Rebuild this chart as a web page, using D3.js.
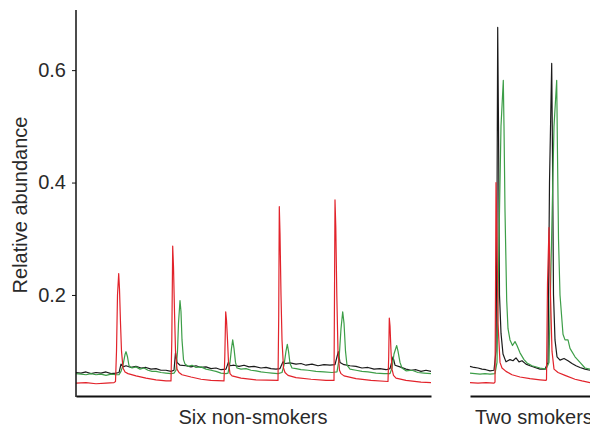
<!DOCTYPE html>
<html>
<head>
    <script src="https://d3js.org/d3.v7.min.js"></script>
</head>
<body style="margin: 0; background-color: white;">

<div id="chart"></div>

<script>
    // panel labels and y ticks
    var panels = ["Six non-smokers", "Two smokers"];
    var yTicks = [0.2, 0.4, 0.6];

    // traces, [time, relative abundance]
    // left panel: six non-smokers
    var leftRed = [
        [0, 0.043], [10, 0.044], [20, 0.042], [30, 0.043], [38, 0.044],
        [39.5, 0.046], [40.5, 0.1], [41.5, 0.2], [42.7, 0.238], [43.5, 0.21], [44.5, 0.15], [45.5, 0.1],
        [47, 0.07], [49, 0.063], [52, 0.06], [60, 0.056], [70, 0.052], [80, 0.049], [90, 0.047], [95, 0.047],
        [95.8, 0.12], [96.7, 0.287], [97.5, 0.25], [98.5, 0.17], [99.5, 0.1], [101, 0.068], [103, 0.062],
        [106, 0.058], [115, 0.054], [125, 0.05], [135, 0.048], [148, 0.047],
        [148.8, 0.09], [149.7, 0.17], [150.5, 0.155], [151.5, 0.12], [152.5, 0.08], [154, 0.06], [156, 0.056],
        [165, 0.052], [180, 0.049], [202, 0.048],
        [202.7, 0.16], [203.3, 0.357], [204, 0.31], [205, 0.2], [206, 0.12], [207.5, 0.07], [209, 0.062],
        [212, 0.057], [220, 0.053], [235, 0.05], [250, 0.048], [258, 0.048],
        [258.5, 0.2], [259, 0.369], [259.8, 0.32], [260.8, 0.2], [262, 0.1], [263.5, 0.066], [265, 0.06],
        [268, 0.056], [280, 0.051], [295, 0.048], [312, 0.046],
        [312.7, 0.09], [313.3, 0.159], [314, 0.145], [315, 0.1], [316, 0.068], [317.5, 0.057],
        [320, 0.052], [330, 0.048], [345, 0.045], [355, 0.044]
    ];
    var leftBlack = [
        [0, 0.062], [5, 0.061], [10, 0.063], [15, 0.060], [20, 0.062], [25, 0.061], [30, 0.063],
        [35, 0.060], [40, 0.061], [43, 0.062], [45, 0.077], [47, 0.072], [50, 0.074], [55, 0.071],
        [60, 0.073], [65, 0.070], [70, 0.071], [75, 0.068], [80, 0.069], [85, 0.066], [90, 0.066],
        [95, 0.064], [98, 0.066], [99.5, 0.097], [101, 0.08], [104, 0.075], [110, 0.074],
        [115, 0.072], [120, 0.074], [125, 0.071], [130, 0.072], [135, 0.069], [140, 0.070],
        [145, 0.067], [150, 0.068], [152.5, 0.081], [154, 0.074], [158, 0.075], [163, 0.073],
        [168, 0.075], [173, 0.072], [178, 0.073], [185, 0.070], [190, 0.071], [195, 0.069],
        [200, 0.068], [204, 0.069], [207, 0.081], [209, 0.078], [214, 0.079], [220, 0.077],
        [225, 0.078], [230, 0.075], [236, 0.077], [242, 0.074], [248, 0.076], [254, 0.075],
        [259, 0.076], [262.3, 0.099], [264, 0.08], [268, 0.076], [274, 0.074], [280, 0.073],
        [286, 0.070], [292, 0.071], [298, 0.068], [304, 0.069], [310, 0.067], [314, 0.069],
        [317, 0.090], [319, 0.075], [324, 0.072], [330, 0.068], [335, 0.066], [340, 0.067],
        [345, 0.064], [350, 0.066], [355, 0.064]
    ];
    var leftGreen = [
        [0, 0.060], [5, 0.059], [10, 0.058], [15, 0.060], [20, 0.058], [25, 0.059], [30, 0.057],
        [35, 0.059], [40, 0.058], [43, 0.058], [45, 0.064], [47, 0.075], [49, 0.094], [50, 0.099],
        [51.5, 0.09], [53, 0.074], [56, 0.070], [60, 0.072], [64, 0.068], [68, 0.070], [72, 0.066],
        [76, 0.064], [80, 0.064], [85, 0.062], [90, 0.061], [95, 0.060], [98, 0.061], [100, 0.066],
        [101.5, 0.1], [102.5, 0.15], [104, 0.19], [105, 0.17], [106, 0.12], [107.5, 0.085],
        [109, 0.077], [112, 0.073], [116, 0.075], [120, 0.071], [125, 0.072], [130, 0.068],
        [135, 0.066], [140, 0.064], [145, 0.061], [150, 0.060], [152, 0.061], [154, 0.08],
        [155.5, 0.105], [156.7, 0.12], [158, 0.105], [159.5, 0.08], [161, 0.07], [165, 0.068],
        [170, 0.069], [175, 0.066], [180, 0.065], [185, 0.063], [190, 0.062], [196, 0.061],
        [202, 0.060], [206, 0.062], [208, 0.075], [210, 0.1], [211.3, 0.112], [212.5, 0.1],
        [214, 0.078], [216, 0.07], [220, 0.069], [225, 0.067], [232, 0.066], [240, 0.064],
        [248, 0.063], [256, 0.062], [261, 0.063], [263, 0.085], [265, 0.14], [266.7, 0.17],
        [268, 0.15], [269.5, 0.1], [271, 0.075], [274, 0.068], [280, 0.066], [286, 0.064],
        [292, 0.063], [300, 0.061], [308, 0.060], [314, 0.060], [316, 0.07], [318, 0.095],
        [320.7, 0.11], [322, 0.1], [324, 0.08], [326, 0.07], [330, 0.065], [336, 0.066],
        [342, 0.062], [348, 0.061], [355, 0.060]
    ];

    // right panel: two smokers
    var rightRed = [
        [0, 0.044], [8, 0.043], [16, 0.044], [24, 0.043], [25, 0.045], [25.5, 0.2], [26, 0.4],
        [27, 0.3], [28, 0.15], [30, 0.08], [32, 0.07], [36, 0.064], [42, 0.058], [50, 0.054],
        [60, 0.051], [70, 0.049], [76, 0.048], [76.5, 0.05], [77.5, 0.22], [79, 0.32], [80.5, 0.2],
        [82, 0.1], [84, 0.068], [88, 0.062], [95, 0.057], [105, 0.05], [112, 0.047], [120, 0.044]
    ];
    var rightBlack = [
        [0, 0.073], [4, 0.071], [8, 0.070], [12, 0.068], [16, 0.067], [20, 0.065], [24, 0.066],
        [26, 0.10], [27, 0.35], [27.7, 0.676], [28.5, 0.5], [29.5, 0.2], [31, 0.132], [33, 0.095],
        [36, 0.081], [40, 0.085], [43, 0.083], [46, 0.088], [49, 0.081], [52, 0.083], [56, 0.077],
        [60, 0.074], [65, 0.071], [70, 0.068], [75, 0.068], [78, 0.08], [79.5, 0.4], [81.7, 0.612],
        [82.5, 0.45], [83.5, 0.2], [85, 0.12], [87, 0.09], [90, 0.084], [94, 0.087], [98, 0.083],
        [102, 0.078], [106, 0.074], [110, 0.071], [115, 0.068], [120, 0.066]
    ];
    var rightGreen = [
        [0, 0.061], [5, 0.060], [10, 0.059], [15, 0.060], [20, 0.059], [25, 0.060], [27, 0.08],
        [29, 0.3], [31, 0.5], [33.3, 0.582], [34, 0.5], [35, 0.35], [36.7, 0.19], [38, 0.14],
        [40, 0.12], [42.5, 0.11], [45, 0.117], [47, 0.11], [50, 0.097], [54, 0.085], [57, 0.079],
        [62, 0.074], [70, 0.070], [76, 0.068], [79, 0.08], [81, 0.25], [84, 0.5], [86.7, 0.582],
        [87.5, 0.45], [88.5, 0.3], [90, 0.2], [93, 0.13], [95, 0.12], [98, 0.12], [100, 0.105],
        [105, 0.09], [110, 0.08], [115, 0.07], [120, 0.068]
    ];

    var width = 590, height = 427;

    var svg = d3.select("#chart")
        .append("svg")
        .attr("width", width)
        .attr("height", height)
        .style("font-family", "'Liberation Sans', Arial, sans-serif");

    var y = d3.scaleLinear().domain([0.022, 0.707]).range([395, 10]);

    var xLeft = d3.scaleLinear().domain([0, 355]).range([76, 431]);
    var xRight = d3.scaleLinear().domain([0, 120]).range([470, 590]);

    var colors = { black: "#1b1b1b", green: "#3d9e48", red: "#e2232b" };

    function drawPanel(x, traces, label, anchor, lx) {
        var g = svg.append("g");

        traces.forEach(function(t) {
            var line = d3.line()
                .x(function(d) { return x(d[0]); })
                .y(function(d) { return y(d[1]); });
            g.append("path")
                .datum(t.data)
                .attr("fill", "none")
                .attr("stroke", t.color)
                .attr("stroke-width", 1.2)
                .attr("stroke-linejoin", "round")
                .attr("d", line);
        });

        // x axis: a plain thick line, no tick labels
        var ax = g.append("g")
            .attr("transform", "translate(0,396)")
            .call(d3.axisBottom(x).tickValues([]).tickSizeOuter(0));
        ax.select(".domain").attr("stroke", "#111").attr("stroke-width", 2);

        g.append("text")
            .attr("x", lx)
            .attr("y", 424)
            .attr("text-anchor", anchor)
            .attr("font-size", 20)
            .attr("fill", "#2a2a2a")
            .text(label);
    }

    drawPanel(xLeft, [
        { data: leftBlack, color: colors.black },
        { data: leftGreen, color: colors.green },
        { data: leftRed, color: colors.red }
    ], panels[0], "middle", 253);

    drawPanel(xRight, [
        { data: rightBlack, color: colors.black },
        { data: rightGreen, color: colors.green },
        { data: rightRed, color: colors.red }
    ], panels[1], "start", 475);

    // y axis
    var yAxis = svg.append("g")
        .attr("transform", "translate(76,0)")
        .call(d3.axisLeft(y).tickValues(yTicks).tickSize(4).tickSizeOuter(0)
            .tickPadding(6).tickFormat(d3.format(".1f")));
    yAxis.select(".domain").attr("stroke", "#111").attr("stroke-width", 1.5)
        .attr("d", "M0,10V397");
    yAxis.selectAll(".tick line").attr("stroke", "#111");
    yAxis.selectAll(".tick text")
        .attr("font-size", 20)
        .attr("font-family", "'Liberation Sans', Arial, sans-serif")
        .attr("fill", "#2a2a2a");

    svg.append("text")
        .attr("transform", "translate(27,205) rotate(-90)")
        .attr("text-anchor", "middle")
        .attr("font-size", 20)
        .attr("fill", "#2a2a2a")
        .text("Relative abundance");
</script>

</body>
</html>
